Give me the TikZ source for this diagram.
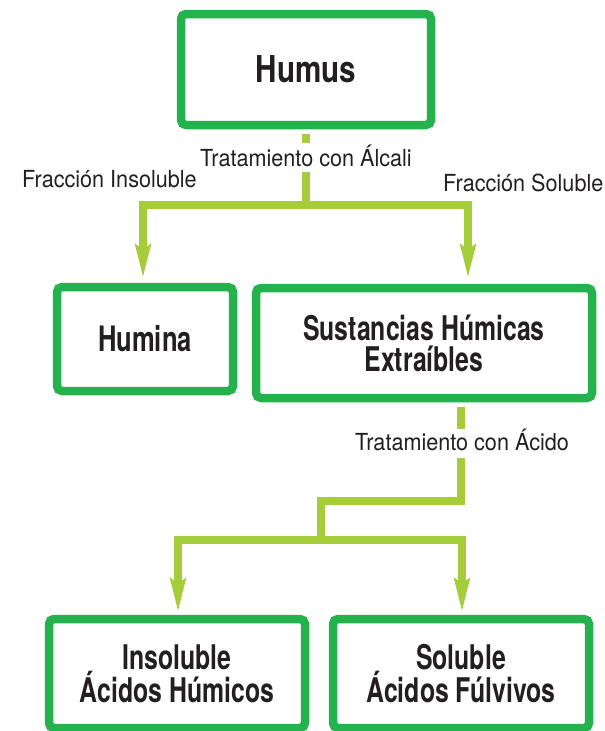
\documentclass[tikz,border=0pt]{standalone}
\usepackage{fontspec}
\setmainfont{TeX Gyre Heros}
\newfontfamily\boxfont{TeX Gyre Heros}[FakeStretch=0.73]
\newfontfamily\humfont{TeX Gyre Heros}[FakeStretch=0.8]
\newfontfamily\labfont{TeX Gyre Heros}[FakeStretch=0.92]
\usetikzlibrary{arrows.meta,calc}
\definecolor{boxgreen}{RGB}{36,178,76}
\definecolor{lime}{RGB}{165,205,57}
\definecolor{ink}{RGB}{35,31,32}
\begin{document}
\begin{tikzpicture}[x=1pt,y=-1pt,
 box/.style={draw=boxgreen, line width=8.5pt, rounded corners=5pt, fill=white, inner sep=0pt, align=center, text=ink, font=\boxfont\bfseries\fontsize{34}{31}\selectfont},
 conn/.style={draw=lime, line width=8pt, line join=miter},
 arr/.style={conn, -{Stealth[length=33pt,width=15pt,inset=5pt]}},
 lab/.style={text=ink, font=\labfont\fontsize{23.5}{28}\selectfont, inner sep=0pt},
 gap/.style={lab, fill=white, inner xsep=3pt, anchor=base}]
\path[use as bounding box] (0,0) rectangle (605,731);
% boxes
\node[box, minimum width=250pt, minimum height=111pt, font=\humfont\bfseries\fontsize{37}{37}\selectfont] (humus) at (306,69.5) {Humus};
\node[box, minimum width=176pt, minimum height=104pt, font=\boxfont\bfseries\fontsize{35}{31}\selectfont] (humina) at (145,339) {Humina};
\node[box, minimum width=336pt, minimum height=110pt] (sust) at (424,343) {Sustancias Húmicas\\Extraíbles};
\node[box, minimum width=256pt, minimum height=109pt] (insol) at (177,673.5) {Insoluble\\Ácidos Húmicos};
\node[box, minimum width=256pt, minimum height=109pt] (sol) at (461,673.5) {Soluble\\Ácidos Fúlvivos};
% first connector
\coordinate (j1) at (306,205);
\coordinate (t1) at (143,278);
\coordinate (t2) at (468,278);
\draw[conn] ([yshift=-4.25pt]humus.south) -- (j1);
\draw[arr] (j1) -| (t1);
\draw[arr] (j1) -| (t2);
\node[gap, text height=23pt, text depth=6pt] (lab1) at (306,166) {Tratamiento con Álcali};
\node[lab, anchor=base west] (lab2) at (22,187) {Fracción Insoluble};
\node[lab, anchor=base west] (lab3) at (443,191) {Fracción Soluble};
% second connector
\coordinate (j2) at (461,501);
\coordinate (j3) at (321,540);
\coordinate (t3) at (178,612);
\coordinate (t4) at (462,612);
\coordinate (s2) at (sust.south -| j2);
\draw[conn] ([yshift=-4.25pt]s2) -- (j2) -- (j2 -| j3) -- (j3);
\draw[arr] (j3) -| (t3);
\draw[arr] (j3) -| (t4);
\node[gap, text height=21pt, text depth=8pt] (lab4) at (462,450) {Tratamiento con Ácido};
\end{tikzpicture}
\end{document}
